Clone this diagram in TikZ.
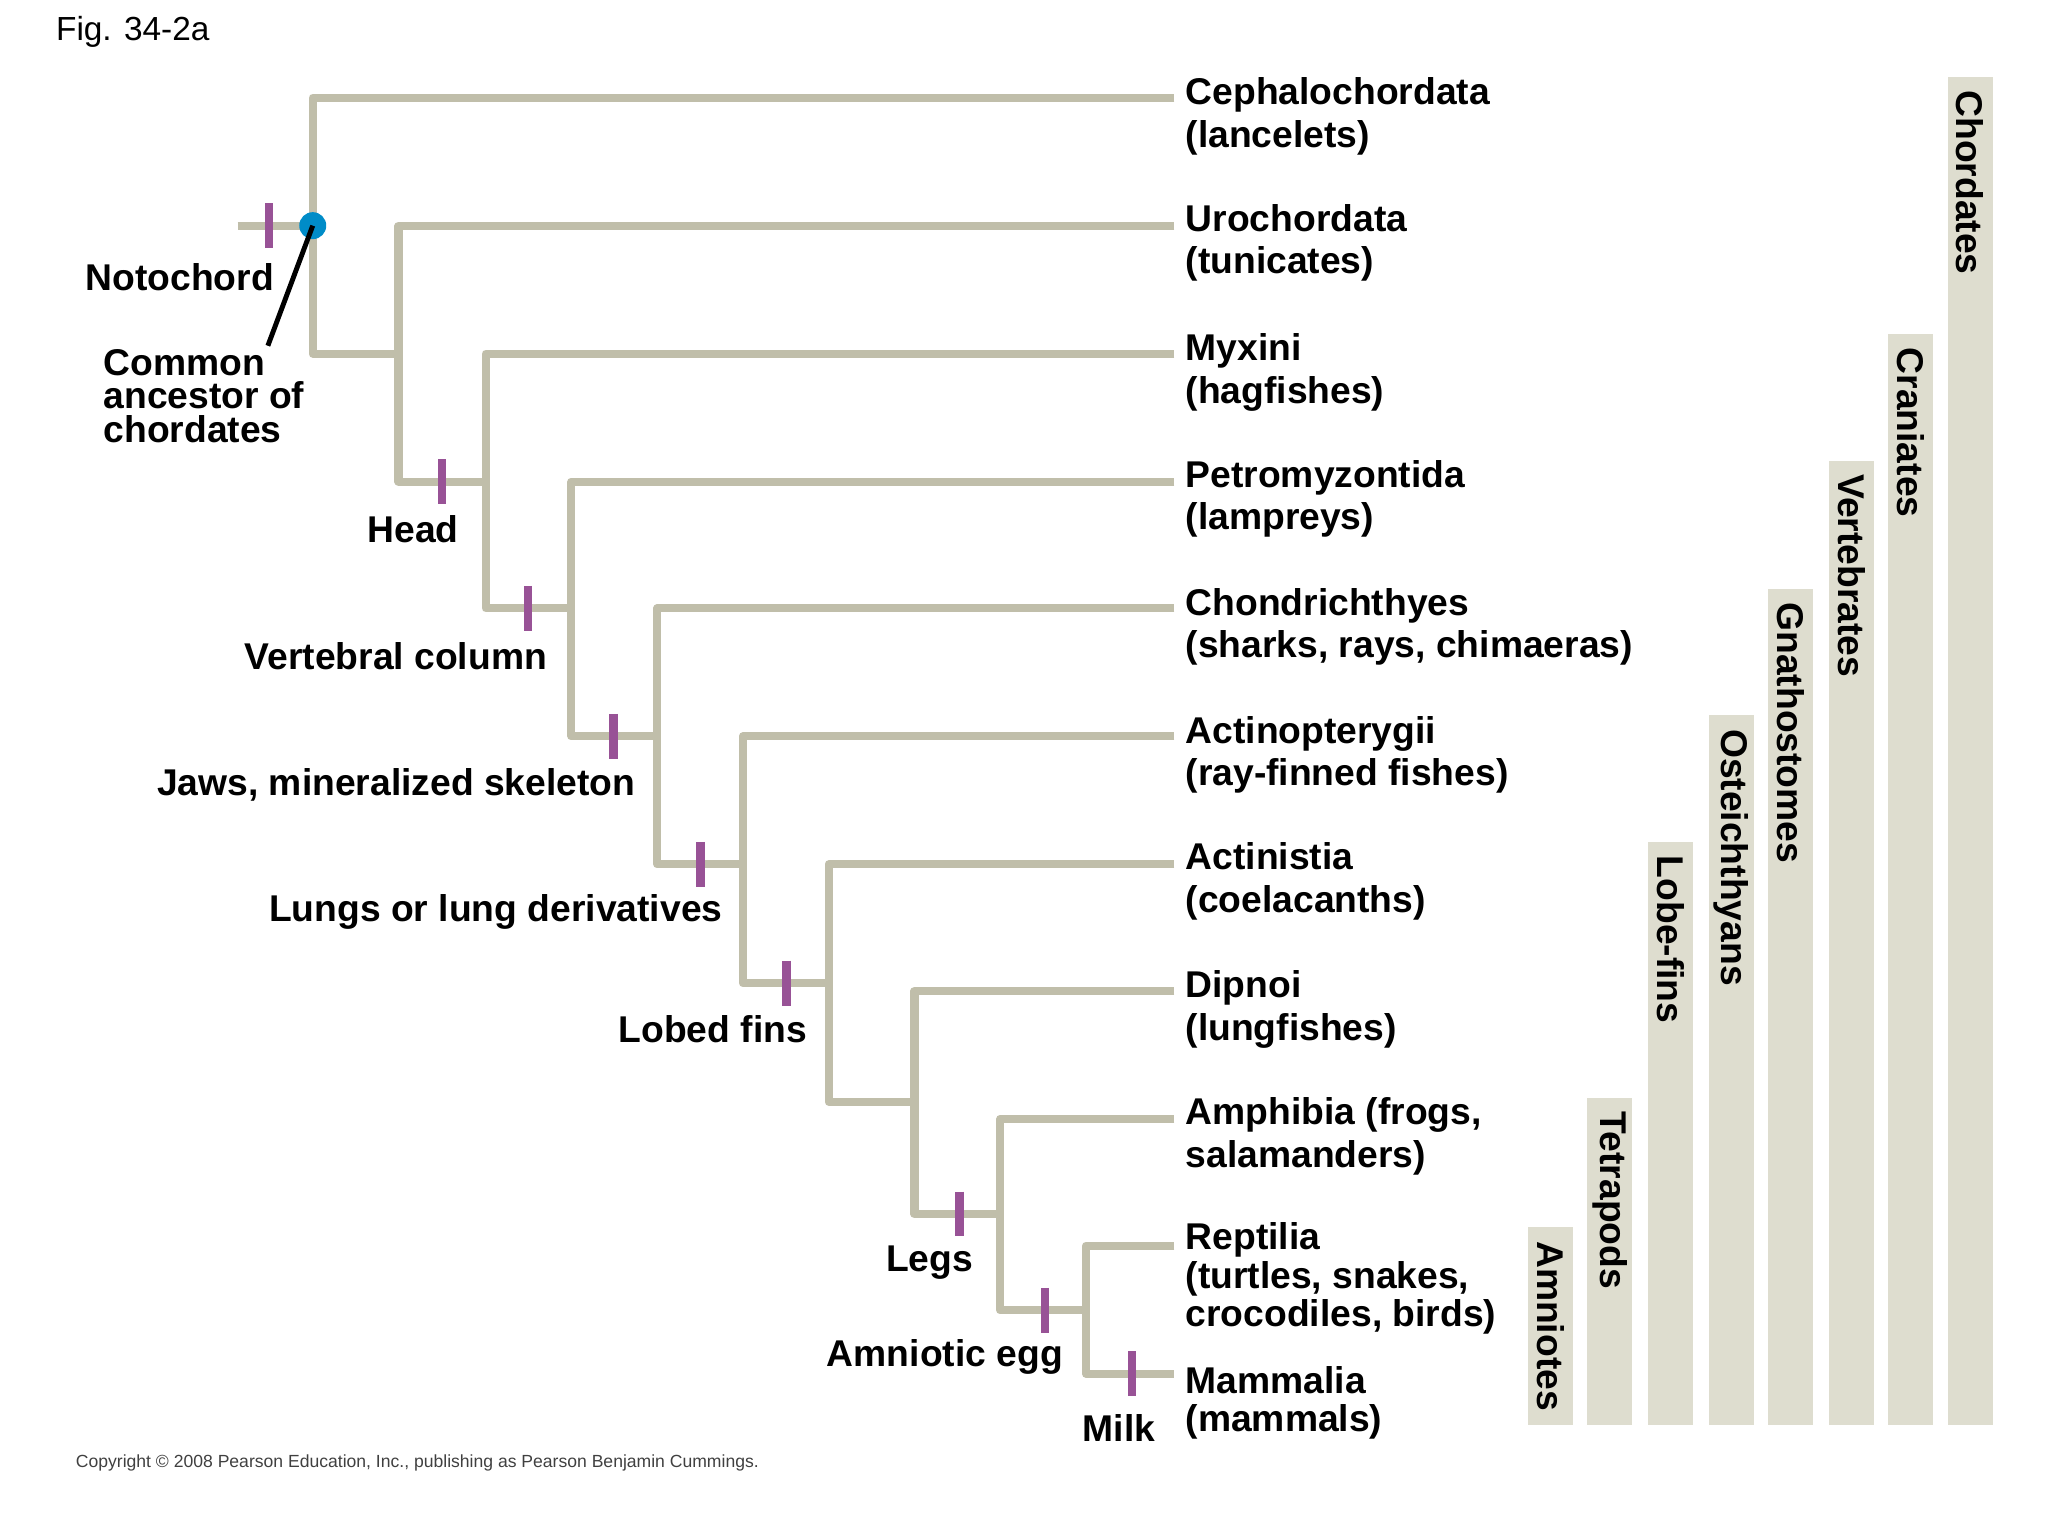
\documentclass[tikz,border=0pt]{standalone}
\usepackage{fontspec}
\setmainfont{Liberation Sans}
\begin{document}
\definecolor{br}{RGB}{192,190,170}
\definecolor{tk}{RGB}{152,82,150}
\definecolor{bar}{RGB}{222,221,207}
\definecolor{dot}{RGB}{0,140,200}
\begin{tikzpicture}[x=0.013196cm,y=-0.013196cm,
 br/.style={draw=br,line width=2.3pt,line join=round},
 tick/.style={draw=tk,line width=2.4pt},
 lab/.style={font=\fontsize{10.6}{12.2}\selectfont\bfseries,inner sep=0pt},
 leaf/.style={lab,anchor=west,align=left},
 trait/.style={lab,anchor=east,align=right},
 barr/.style={fill=bar,draw=none},
 bart/.style={lab,rotate=-90,anchor=west}]
\useasboundingbox (0,0) rectangle (1552,1164);
% tree
\draw[br] (180,171) -- (237,171);
\draw[br] (890,74) -- (237,74) -- (237,268) -- (302,268);
\draw[br] (890,171) -- (302,171) -- (302,365) -- (368,365);
\draw[br] (890,268) -- (368,268) -- (368,461) -- (433,461);
\draw[br] (890,365) -- (433,365) -- (433,558) -- (498,558);
\draw[br] (890,461) -- (498,461) -- (498,655) -- (563,655);
\draw[br] (890,558) -- (563,558) -- (563,745) -- (628,745);
\draw[br] (890,655) -- (628,655) -- (628,835) -- (693,835);
\draw[br] (890,751) -- (693,751) -- (693,920) -- (758,920);
\draw[br] (890,848) -- (758,848) -- (758,993) -- (823,993);
\draw[br] (890,944) -- (823,944) -- (823,1041) -- (890,1041);
% ticks
\foreach \x/\y in {204/171,335/365,400/461,465/558,531/655,596/745,727/920,792/993,858/1041}
  \draw[tick] (\x,\y-17) -- (\x,\y+17);
\coordinate (ca) at (203,262);
\node[circle,fill=dot,inner sep=0pt,minimum size=0.27cm] (d) at (237,171) {};
\draw[line width=1.4pt] (d.center) -- (ca);
% bars
\foreach \x/\t/\n in {1158/930/Amniotes,1203/832/Tetrapods,1249/638/Lobe-fins,1295/542/Osteichthyans,1340/446/Gnathostomes,1386/349/Vertebrates,1431/253/Craniates,1476/58/Chordates}{
  \fill[barr] (\x,\t) rectangle (\x+34,1080);
  \node[bart] (b\n) at (\x+17,\t+10) {\n};}
% leaves
\node[leaf] (l1) at (898,88) {Cephalochordata\\(lancelets)};
\node[leaf] (l2) at (898,184) {Urochordata\\(tunicates)};
\node[leaf] (l3) at (898,282) {Myxini\\(hagfishes)};
\node[leaf] (l4) at (898,378) {Petromyzontida\\(lampreys)};
\node[leaf] (l5) at (898,475) {Chondrichthyes\\(sharks, rays, chimaeras)};
\node[leaf] (l6) at (898,572) {Actinopterygii\\(ray-finned fishes)};
\node[leaf] (l7) at (898,668) {Actinistia\\(coelacanths)};
\node[leaf] (l8) at (898,765) {Dipnoi\\(lungfishes)};
\node[leaf] (l9) at (898,861) {Amphibia (frogs,\\salamanders)};
\node[leaf,font=\fontsize{10.6}{11}\selectfont\bfseries] (l10) at (898,969) {Reptilia\\(turtles, snakes,\\crocodiles, birds)};
\node[leaf,font=\fontsize{10.6}{11}\selectfont\bfseries] (l11) at (898,1063) {Mammalia\\(mammals)};
% traits
\node[trait] (t1) at (208,210) {Notochord};
\node[lab,anchor=west,align=left,font=\fontsize{10.6}{9.5}\selectfont\bfseries] (t0) at (78,300) {Common\\ancestor of\\chordates};
\node[trait] (t2) at (348,401) {Head};
\node[trait] (t3) at (415,497) {Vertebral column};
\node[trait] (t4) at (482,595) {Jaws, mineralized skeleton};
\node[trait] (t5) at (548,691) {Lungs or lung derivatives};
\node[trait] (t6) at (612,780) {Lobed fins};
\node[trait] (t7) at (738,957) {Legs};
\node[trait] (t8) at (806,1028) {Amniotic egg};
\node[trait] (t9) at (876,1082) {Milk};
\node[anchor=west,inner sep=0pt,font=\fontsize{9.5}{11}\selectfont] (fig) at (42,24) {Fig. 34-2a};
\node[anchor=west,inner sep=0pt,font=\fontsize{5}{6}\selectfont,text=black!75] (cp) at (57,1109) {Copyright © 2008 Pearson Education, Inc., publishing as Pearson Benjamin Cummings.};
\end{tikzpicture}
\end{document}
